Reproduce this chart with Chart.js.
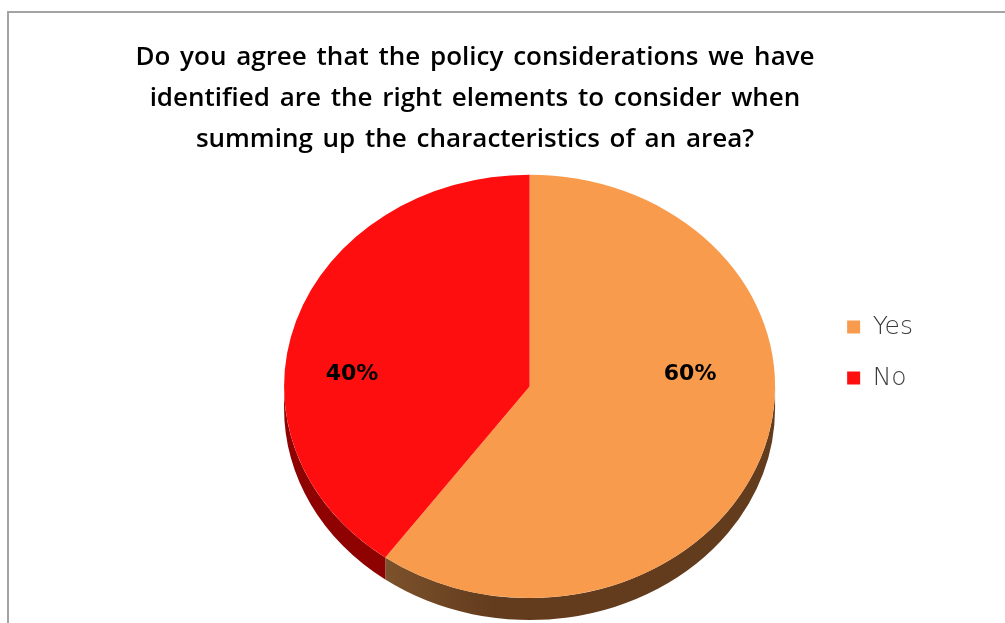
<!DOCTYPE html>
<html>
<head>
<meta charset="utf-8">
<script src="https://cdn.jsdelivr.net/npm/chart.js@4.4.1/dist/chart.umd.min.js"></script>
<style>
  html, body { margin: 0; padding: 0; background: #fff; overflow: hidden; }
  #frame { position: absolute; left: 7px; top: 11px; width: 1020px; height: 700px;
           border: 2px solid #a3a3a3; box-sizing: border-box; }
  #title { position: absolute; left: 0; top: 35px; width: 950px; text-align: center;
           font: 600 26px "Open Sans", sans-serif; line-height: 41px; word-spacing: 3px; color: #000; }
  #pie { position: absolute; left: 0; top: 0; }
</style>
</head>
<body>
<div id="frame"></div>
<canvas id="pie" width="1005" height="623"></canvas>
<div id="title"></div>
<script>
const titleLines = [
  "Do you agree that the policy considerations we have",
  "identified are the right elements to consider when",
  "summing up the characteristics of an area?"
];
const categories = ["Yes", "No"];
const shares = [60, 40];

// colours: top face, side wall (light -> dark)
const faceColors = ["#f89b4c", "#fe0e0e"];
const sideColors = [["#80552d", "#633c1e"], ["#8e0202", "#870000"]];

const TILT = 0.862;  // vertical squash of the pie top
const DEPTH = 22;    // thickness of the pie wall

const titleBox = document.getElementById("title");
titleLines.forEach(line => {
  const div = document.createElement("div");
  div.textContent = line;
  titleBox.appendChild(div);
});

const pie3d = {
  id: "pie3d",
  beforeDatasetsDraw(chart) {
    const ctx = chart.ctx;
    const arcs = chart.getDatasetMeta(0).data;
    const { x, y, outerRadius: r } = arcs[0];
    const base = y + r;
    const cy = base - r * TILT;

    // front wall, only the lower half of each slice can be seen
    arcs.forEach((arc, i) => {
      const a1 = Math.max(arc.startAngle, 0);
      const a2 = Math.min(arc.endAngle, Math.PI);
      if (a2 <= a1) return;
      const g = ctx.createLinearGradient(x - r * 0.65, 0, x - r * 0.15, 0);
      g.addColorStop(0, sideColors[i][0]);
      g.addColorStop(1, sideColors[i][1]);
      ctx.beginPath();
      ctx.ellipse(x, cy, r, r * TILT, 0, a1, a2);
      ctx.ellipse(x, cy + DEPTH, r, r * TILT, 0, a2, a1, true);
      ctx.closePath();
      ctx.fillStyle = g;
      ctx.fill();
    });

    ctx.save();
    ctx.translate(0, base * (1 - TILT));
    ctx.scale(1, TILT);
  },
  afterDatasetsDraw(chart) {
    const ctx = chart.ctx;
    ctx.restore();

    const arcs = chart.getDatasetMeta(0).data;
    const { y, outerRadius: r } = arcs[0];
    const cy = y + r - r * TILT;
    ctx.save();
    ctx.font = "bold 22px 'DejaVu Sans'";
    ctx.fillStyle = "#000";
    ctx.textAlign = "center";
    ctx.textBaseline = "middle";
    arcs.forEach((arc, i) => {
      const mid = (arc.startAngle + arc.endAngle) / 2;
      const lx = arc.x + Math.cos(mid) * r * 0.724 - 8.5;
      ctx.fillText(shares[i] + "%", lx, cy - 12);
    });
    ctx.restore();
  }
};

new Chart(document.getElementById("pie"), {
  type: "pie",
  data: {
    labels: categories,
    datasets: [{
      data: shares,
      backgroundColor: faceColors,
      borderWidth: 0,
      hoverOffset: 0
    }]
  },
  options: {
    responsive: false,
    animation: false,
    events: [],
    layout: { padding: { top: 107, bottom: 25, left: 238, right: 82 } },
    plugins: {
      tooltip: { enabled: false },
      legend: {
        position: "right",
        labels: {
          boxWidth: 13,
          boxHeight: 13,
          padding: 26,
          color: "#3a3a3a",
          font: { family: "'DejaVu Sans'", size: 25, weight: 200 }
        }
      }
    }
  },
  plugins: [pie3d]
});
</script>
</body>
</html>
